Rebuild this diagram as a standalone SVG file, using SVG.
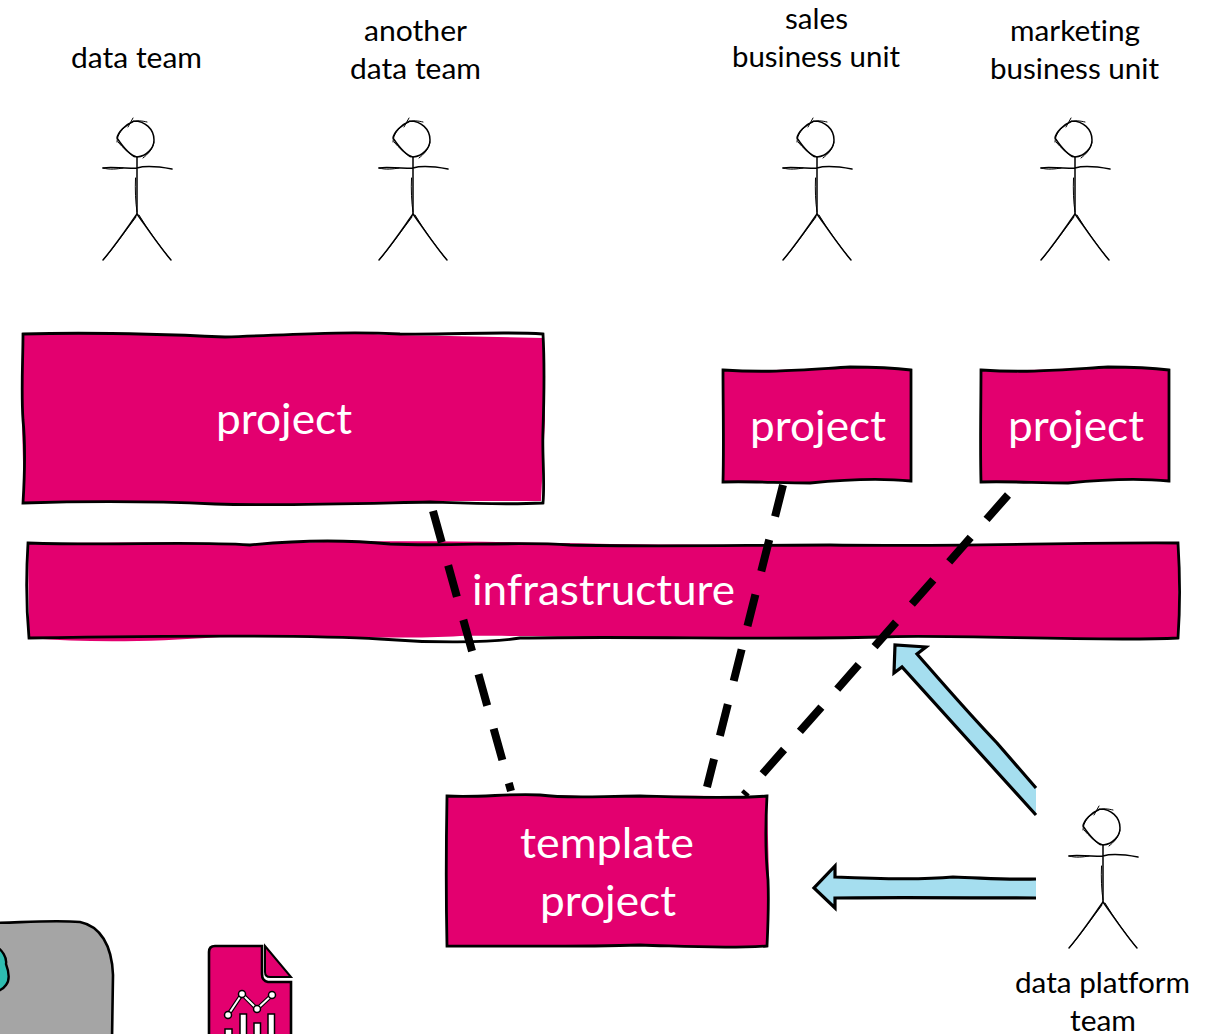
<svg xmlns="http://www.w3.org/2000/svg" xmlns:xlink="http://www.w3.org/1999/xlink" width="1218" height="1034" viewBox="0 0 1218 1034">
<style>
.lbl{font-family:"Lato","Carlito","Liberation Sans",sans-serif;font-size:28px;fill:#000;font-variant-ligatures:none}
.big{font-family:"Lato","Carlito","Liberation Sans",sans-serif;font-size:42px;fill:#fff;font-variant-ligatures:none}
.pf{fill:#E3006F;stroke:none}
.ps{fill:none;stroke:#000;stroke-width:2.8;stroke-linejoin:miter}
.dash{fill:none;stroke:#000;stroke-width:8;stroke-dasharray:32.5 24}
.af{fill:#A5DEEF;stroke:none}
.as{fill:none;stroke:#000;stroke-width:3.2;stroke-linejoin:miter}
.sk{fill:none;stroke:#000;stroke-width:1.5;stroke-linecap:round}
.sk2{fill:none;stroke:#000;stroke-width:1;stroke-linecap:round}
</style>
<defs>
<g id="stick">
<path class="sk" d="M-3,-93 C8,-93 17,-85 17,-74 C17,-66 10,-58 0,-57 C-6,-58 -14,-67 -20,-76 C-19,-82 -12,-89 -3,-93"/>
<path class="sk2" d="M-20,-72 C-20,-80 -14,-86 -8,-90 M-9,-87 L-4,-96 M-5,-92 C0,-94 6,-93 10,-92 M17,-72 C16,-65 11,-60 6,-56 M-19,-72 C-14,-66 -8,-61 -3,-57"/>
<path class="sk" d="M0,-57 L0,0 M-34,-46 C-25,-48 -15,-45 0,-46 C10,-49 24,-47 35,-45"/>
<path class="sk2" d="M-34,-46 C-27,-44 -20,-45 -14,-46 M-1.5,-36 C-2,-24 -1.5,-12 0,-2"/>
<path class="sk" d="M0,0 C-10,14 -22,32 -34,46 M0,0 C10,14 22,32 34,46"/>
<path class="sk2" d="M-1,3 C-11,16 -21,31 -33,45 M2,1 C11,16 22,31 33,45"/>
</g>
</defs>

<g id="actor-data-team">
<text class="lbl" x="71" y="68" textLength="131" lengthAdjust="spacingAndGlyphs">data team</text>
<use xlink:href="#stick" href="#stick" x="137" y="214"/>
</g>
<g id="actor-another-data-team">
<text class="lbl" x="364" y="41" textLength="103" lengthAdjust="spacingAndGlyphs">another</text>
<text class="lbl" x="350" y="79" textLength="131" lengthAdjust="spacingAndGlyphs">data team</text>
<use xlink:href="#stick" href="#stick" x="413" y="214"/>
</g>
<g id="actor-sales">
<text class="lbl" x="785" y="29" textLength="63" lengthAdjust="spacingAndGlyphs">sales</text>
<text class="lbl" x="732" y="67" textLength="168" lengthAdjust="spacingAndGlyphs">business unit</text>
<use xlink:href="#stick" href="#stick" x="817" y="214"/>
</g>
<g id="actor-marketing">
<text class="lbl" x="1010" y="41" textLength="130" lengthAdjust="spacingAndGlyphs">marketing</text>
<text class="lbl" x="990" y="79" textLength="169" lengthAdjust="spacingAndGlyphs">business unit</text>
<use xlink:href="#stick" href="#stick" x="1075" y="214"/>
</g>

<g id="project-1">
<path class="pf" d="M23,335 C90,332 160,334 225,337 C290,335 340,332 400,335 L543,338 L545,420 L541,501 L430,501 C340,504 280,506 215,504 C150,501 90,501 24,504 L22,420 Z"/>
<path class="ps" d="M23,334 C90,332 160,334 225,337 C290,335 340,331 400,334 C450,335 500,331 543,334 C545,370 544,400 543,430 C542,455 545,480 543,503 C500,505 460,503 430,502 C340,504 280,506 215,504 C150,501 90,501 23,503 C25,470 25,440 23,420 C21,390 23,360 23,334 Z"/>
<text class="big" x="216" y="434" textLength="136" lengthAdjust="spacingAndGlyphs">project</text>
</g>
<g id="project-2">
<path class="pf" d="M723,370 C770,371 800,369 850,367 L911,370 L911,481 C880,478 840,480 810,483 L723,481 Z"/>
<path class="ps" d="M723,370 C770,373 800,370 850,367 C875,367 895,368 911,370 L911,481 C880,478 840,480 810,483 C780,483 750,481 723,482 C724,445 723,405 723,370 Z"/>
<text class="big" x="750" y="441" textLength="136" lengthAdjust="spacingAndGlyphs">project</text>
</g>
<g id="project-3">
<path class="pf" d="M981,370 C1028,371 1058,369 1108,367 L1169,370 L1169,481 C1138,478 1098,480 1068,483 L981,481 Z"/>
<path class="ps" d="M981,370 C1028,373 1058,370 1108,367 C1133,367 1153,368 1169,370 L1169,481 C1138,478 1098,480 1068,483 C1038,483 1008,481 981,482 C980,445 981,405 981,370 Z"/>
<text class="big" x="1008" y="441" textLength="136" lengthAdjust="spacingAndGlyphs">project</text>
</g>
<g id="infrastructure">
<path class="pf" d="M28,543 C120,543 180,541 250,545 C330,540 450,541 560,543 C700,546 800,544 950,545 L1178,543 L1179,638 C1000,640 950,634 880,637 C700,640 520,635 460,636 C400,640 300,635 220,637 C150,642 90,643 29,638 Z"/>
<path class="ps" d="M28,543 C120,546 180,541 250,545 C290,541 340,539 390,544 C450,547 510,541 570,545 C650,547 750,545 830,545 C950,547 1080,542 1178,543 C1180,575 1180,610 1178,638 C1100,642 950,634 880,637 C760,640 650,636 520,638 C490,643 430,643 380,639 C300,634 150,636 29,638 C26,605 26,575 28,543 Z"/>
<text class="big" x="472" y="605" textLength="263" lengthAdjust="spacingAndGlyphs">infrastructure</text>
</g>
<g id="template-project">
<path class="pf" d="M447,797 C500,795 550,794 600,797 C660,795 710,796 767,797 L769,880 L767,946 L447,946 Z"/>
<path class="ps" d="M447,796 C480,798 510,793 540,795 C570,799 600,796 640,796 C680,797 730,799 767,796 C765,830 766,860 768,880 C769,905 768,925 767,946 C720,949 680,946 640,945 C580,947 500,946 447,946 C446,900 446,850 447,796 Z"/>
<text class="big" x="520" y="858" textLength="174" lengthAdjust="spacingAndGlyphs">template</text>
<text class="big" x="540" y="916" textLength="136" lengthAdjust="spacingAndGlyphs">project</text>
</g>

<g id="connectors">
<path class="dash" d="M433,511 L511,791"/>
<path class="dash" d="M783,485 L707,787"/>
<path class="dash" d="M1008,495 L744,795"/>
<path class="af" d="M895,645 L926,647 L917,654 C945,686 970,715 997,743 L1036,788 L1036,815 L902,667 L894,673 Z"/>
<path class="as" d="M1036,788 L997,743 C970,715 945,686 917,654 L926,647 L895,645 L894,673 L902,667 L1036,815"/>
<path class="af" d="M814,888 L835,866 L835,877 C880,879 920,880 953,877 C985,878 1010,880 1036,879 L1036,898 L835,898 L835,908 Z"/>
<path class="as" d="M1036,879 C1010,880 985,878 953,877 C920,880 880,879 835,877 L835,866 L814,888 L835,908 L835,898 C900,897 970,898 1036,898"/>
</g>

<g id="actor-data-platform-team">
<use xlink:href="#stick" href="#stick" x="1103" y="902"/>
<text class="lbl" x="1015" y="993" textLength="175" lengthAdjust="spacingAndGlyphs">data platform</text>
<text class="lbl" x="1070" y="1031" textLength="66" lengthAdjust="spacingAndGlyphs">team</text>
</g>

<g id="cloud-shape">
<path d="M-6,923 C30,922 55,920 80,922 C100,926 112,945 113,975 L112,1040 L-6,1040 Z" fill="#A5A5A5" stroke="#000" stroke-width="2.6"/>
<path d="M-6,945 C3,950 7,958 6,964 C9,972 10,980 6,985 C4,988 2,990 -6,993 Z" fill="#2EBDB0" stroke="#000" stroke-width="2.4"/>
</g>
<g id="report-icon">
<path d="M209,952 Q209,946 215,946 L262,946 L262,974 Q262,981 268,982 L291,982 L291,1040 L209,1040 Z" fill="#E3006F" stroke="#000" stroke-width="2.6"/>
<path d="M265,946 L291,977 L270,977 Q265,977 265,972 Z" fill="#E3006F" stroke="#000" stroke-width="2"/>
<g stroke="#000" stroke-width="1.5" fill="#fff">
<rect x="240" y="1014" width="6.5" height="24"/>
<rect x="254" y="1023" width="6.5" height="16"/>
<rect x="268" y="1014" width="6.5" height="24"/>
<rect x="225" y="1029" width="7" height="10"/>
</g>
<path d="M228,1015 L242,994 L257,1009 L272,995" fill="none" stroke="#000" stroke-width="4.2"/>
<path d="M228,1015 L242,994 L257,1009 L272,995" fill="none" stroke="#fff" stroke-width="2"/>
<g fill="#fff" stroke="#000" stroke-width="1.5">
<circle cx="228" cy="1015" r="3.5"/><circle cx="242" cy="994" r="3.5"/><circle cx="257" cy="1009" r="3.5"/><circle cx="272" cy="995" r="3.5"/>
</g>
</g>
</svg>
